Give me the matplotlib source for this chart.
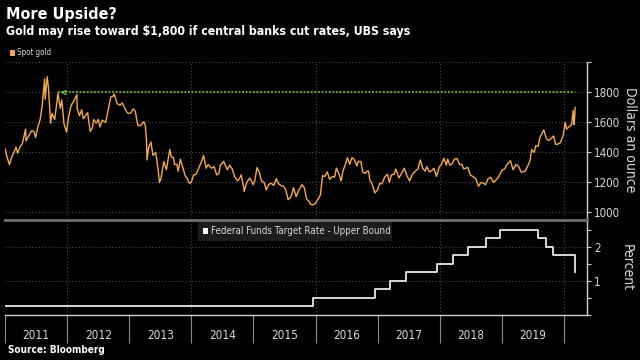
import matplotlib.pyplot as plt
import matplotlib.dates as mdates
import pandas as pd
from matplotlib.patches import Rectangle

plt.rcParams["font.family"] = ["DejaVu Sans"]
plt.rcParams["font.stretch"] = "condensed"

# spot gold, dollars an ounce
gold_dates = [
    "2011-01-03", "2011-01-14", "2011-01-27", "2011-02-08", "2011-02-22", "2011-03-07", "2011-03-16",
    "2011-03-31", "2011-04-13", "2011-04-28", "2011-05-02", "2011-05-05", "2011-05-20", "2011-06-07",
    "2011-06-20", "2011-06-30", "2011-07-12", "2011-07-27", "2011-08-08", "2011-08-22", "2011-08-25",
    "2011-09-06", "2011-09-14", "2011-09-26", "2011-10-04", "2011-10-20", "2011-10-31", "2011-11-08",
    "2011-11-22", "2011-12-01", "2011-12-14", "2011-12-29",
    "2012-01-10", "2012-01-25", "2012-02-08", "2012-02-28", "2012-02-29", "2012-03-14", "2012-03-27",
    "2012-04-05", "2012-04-18", "2012-05-01", "2012-05-16", "2012-05-29", "2012-06-06", "2012-06-20",
    "2012-07-03", "2012-07-12", "2012-07-26", "2012-08-15", "2012-08-31", "2012-09-14", "2012-09-28",
    "2012-10-04", "2012-10-22", "2012-11-07", "2012-11-20", "2012-12-03", "2012-12-19", "2012-12-28",
    "2013-01-11", "2013-01-23", "2013-02-05", "2013-02-20", "2013-03-08", "2013-03-27", "2013-04-05",
    "2013-04-12", "2013-04-15", "2013-04-24", "2013-05-08", "2013-05-20", "2013-06-05", "2013-06-20",
    "2013-06-27", "2013-07-05", "2013-07-23", "2013-08-07", "2013-08-27", "2013-09-05", "2013-09-18",
    "2013-09-24", "2013-10-08", "2013-10-15", "2013-10-28", "2013-11-14", "2013-11-27", "2013-12-06",
    "2013-12-19", "2013-12-31",
    "2014-01-14", "2014-01-28", "2014-02-11", "2014-02-26", "2014-03-14", "2014-03-28", "2014-04-10",
    "2014-04-29", "2014-05-14", "2014-05-30", "2014-06-12", "2014-06-20", "2014-07-10", "2014-07-31",
    "2014-08-14", "2014-08-29", "2014-09-11", "2014-09-30", "2014-10-10", "2014-10-21", "2014-11-05",
    "2014-11-07", "2014-11-21", "2014-12-01", "2014-12-11", "2014-12-30",
    "2015-01-08", "2015-01-22", "2015-02-05", "2015-02-17", "2015-03-05", "2015-03-17", "2015-03-31",
    "2015-04-14", "2015-04-30", "2015-05-15", "2015-05-29", "2015-06-11", "2015-06-26", "2015-07-08",
    "2015-07-20", "2015-07-24", "2015-08-10", "2015-08-24", "2015-09-09", "2015-09-25", "2015-10-14",
    "2015-10-27", "2015-11-09", "2015-11-26", "2015-12-02", "2015-12-17", "2015-12-31",
    "2016-01-13", "2016-01-29", "2016-02-11", "2016-02-25", "2016-03-10", "2016-03-24", "2016-04-08",
    "2016-04-22", "2016-05-02", "2016-05-18", "2016-05-30", "2016-06-10", "2016-06-24", "2016-07-06",
    "2016-07-20", "2016-08-02", "2016-08-17", "2016-08-31", "2016-09-08", "2016-09-23", "2016-10-04",
    "2016-10-18", "2016-10-31", "2016-11-08", "2016-11-14", "2016-11-28", "2016-12-15", "2016-12-30",
    "2017-01-13", "2017-01-25", "2017-02-10", "2017-02-27", "2017-03-10", "2017-03-22", "2017-04-07",
    "2017-04-17", "2017-05-05", "2017-05-18", "2017-06-06", "2017-06-21", "2017-07-07", "2017-07-24",
    "2017-08-09", "2017-08-25", "2017-09-08", "2017-09-22", "2017-10-06", "2017-10-16", "2017-10-31",
    "2017-11-15", "2017-11-27", "2017-12-12", "2017-12-29",
    "2018-01-10", "2018-01-25", "2018-02-08", "2018-02-16", "2018-03-01", "2018-03-14", "2018-03-27",
    "2018-04-11", "2018-04-27", "2018-05-10", "2018-05-21", "2018-06-14", "2018-06-29", "2018-07-13",
    "2018-07-31", "2018-08-16", "2018-08-31", "2018-09-14", "2018-09-27", "2018-10-11", "2018-10-26",
    "2018-11-13", "2018-11-30", "2018-12-14", "2018-12-31",
    "2019-01-04", "2019-01-17", "2019-01-31", "2019-02-20", "2019-03-07", "2019-03-25", "2019-04-10",
    "2019-04-23", "2019-05-02", "2019-05-17", "2019-05-31", "2019-06-14", "2019-06-25", "2019-07-10",
    "2019-07-18", "2019-08-01", "2019-08-13", "2019-08-23", "2019-09-04", "2019-09-18", "2019-10-01",
    "2019-10-15", "2019-11-01", "2019-11-12", "2019-11-25", "2019-12-10", "2019-12-26",
    "2020-01-08", "2020-01-16", "2020-02-03", "2020-02-14", "2020-02-24", "2020-02-28", "2020-03-04",
    "2020-03-06",
]
gold_prices = [
    1422, 1365, 1318, 1365, 1400, 1435, 1395,
    1439, 1458, 1535, 1556, 1476, 1510, 1545,
    1540, 1500, 1565, 1620, 1715, 1890, 1755,
    1905, 1825, 1595, 1660, 1620, 1715, 1795,
    1695, 1750, 1590, 1535,
    1640, 1715, 1740, 1785, 1695, 1645, 1685,
    1625, 1645, 1665, 1540, 1565, 1620, 1595,
    1620, 1570, 1615, 1600, 1690, 1770, 1775,
    1790, 1725, 1715, 1730, 1700, 1665, 1660,
    1665, 1690, 1675, 1580, 1580, 1605, 1580,
    1480, 1350, 1430, 1470, 1380, 1400, 1280,
    1200, 1220, 1340, 1285, 1420, 1370, 1365,
    1320, 1320, 1275, 1355, 1290, 1240, 1230,
    1195, 1200,
    1250, 1255, 1290, 1330, 1380, 1295, 1320,
    1295, 1305, 1250, 1260, 1315, 1340, 1285,
    1315, 1290, 1240, 1210, 1225, 1250, 1165,
    1140, 1195, 1215, 1230, 1185,
    1210, 1300, 1265, 1210, 1200, 1150, 1185,
    1195, 1180, 1225, 1190, 1180, 1175, 1155,
    1105, 1085, 1105, 1165, 1105, 1150, 1185,
    1165, 1090, 1070, 1055, 1050, 1060,
    1085, 1115, 1245, 1240, 1270, 1220, 1240,
    1235, 1295, 1255, 1210, 1275, 1320, 1365,
    1320, 1365, 1350, 1310, 1340, 1340, 1270,
    1260, 1275, 1275, 1220, 1190, 1130, 1150,
    1195, 1190, 1235, 1255, 1200, 1250, 1255,
    1290, 1230, 1255, 1295, 1245, 1210, 1255,
    1275, 1290, 1350, 1295, 1275, 1305, 1270,
    1280, 1295, 1240, 1305,
    1320, 1360, 1315, 1355, 1315, 1325, 1355,
    1360, 1320, 1320, 1290, 1300, 1250, 1240,
    1225, 1175, 1200, 1195, 1185, 1225, 1235,
    1200, 1220, 1240, 1280,
    1285, 1290, 1320, 1345, 1285, 1320, 1305,
    1270, 1270, 1275, 1305, 1340, 1420, 1400,
    1445, 1440, 1500, 1525, 1550, 1495, 1480,
    1490, 1510, 1455, 1455, 1465, 1510,
    1600, 1555, 1575, 1585, 1680, 1585, 1640,
    1700,
]

# Federal Funds Target Rate - Upper Bound, percent
fed_dates = [
    "2011-01-03", "2015-12-17", "2016-12-15", "2017-03-16", "2017-06-15", "2017-12-14",
    "2018-03-22", "2018-06-14", "2018-09-27", "2018-12-20", "2019-08-01", "2019-09-19",
    "2019-10-31", "2020-03-04", "2020-03-06",
]
fed_rates = [0.25, 0.5, 0.75, 1.0, 1.25, 1.5, 1.75, 2.0, 2.25, 2.5, 2.25, 2.0, 1.75, 1.25, 1.25]

target_price = 1800
target_start = "2011-11-08"
years = list(range(2011, 2020))

GOLD = "#f6a94c"
GREEN = "#74b83c"
GRID = "#4a4a4a"
TEXT = "#d9d9d9"

gold_x = pd.to_datetime(gold_dates)
fed_x = pd.to_datetime(fed_dates)

fig = plt.figure(figsize=(6.4, 3.6), dpi=100, facecolor="black")
ax1 = fig.add_axes([5 / 640, 1 - 218 / 360, 582 / 640, 156 / 360], facecolor="black")
ax2 = fig.add_axes([5 / 640, 1 - 315 / 360, 582 / 640, 95 / 360], facecolor="black", sharex=ax1)

# top panel: gold
ax1.plot(gold_x, gold_prices, color=GOLD, lw=1.0, zorder=3)
ax1.plot([pd.Timestamp(target_start), gold_x[-1]], [target_price, target_price],
         color=GREEN, lw=1.3, ls=(0, (1, 1)), zorder=2)
ax1.annotate("", xy=(pd.Timestamp(target_start), target_price),
             xytext=(pd.Timestamp(target_start) + pd.Timedelta(days=40), target_price),
             arrowprops=dict(arrowstyle="->", color=GREEN, lw=1.0, mutation_scale=7))
ax1.set_ylim(963, 2003)
ax1.set_yticks([1000, 1200, 1400, 1600, 1800, 2000])
ax1.set_yticklabels(["1000", "1200", "1400", "1600", "1800", ""])

# bottom panel: fed funds
ax2.step(fed_x, fed_rates, where="post", color="#e8e8e8", lw=1.3, zorder=3)
ax2.set_ylim(0, 2.79)
ax2.set_yticks([0, 0.5, 1, 1.5, 2, 2.5])
ax2.set_yticklabels(["", "", "1", "", "2", ""])

ax1.set_xlim(pd.Timestamp("2011-01-01"), pd.Timestamp("2020-05-15"))

for ax in (ax1, ax2):
    for side in ("left", "top", "bottom"):
        ax.spines[side].set_visible(False)
    ax.spines["right"].set_color("#cfcfcf")
    ax.spines["right"].set_linewidth(1.0)
    ax.yaxis.tick_right()
    ax.tick_params(axis="y", colors="#cfcfcf", labelcolor=TEXT, labelsize=8.3, length=3, width=0.8, pad=2)
    for yr in (2012, 2014, 2016, 2018, 2020):
        ax.axvline(pd.Timestamp(f"{yr}-01-01"), color=GRID, lw=0.8, ls=(0, (1, 2)), zorder=1)

for v in [1000, 1200, 1400, 1600, 1800, 2000]:
    ax1.axhline(v, color=GRID, lw=0.8, ls=(0, (1, 2)), zorder=1)
for v in [1, 2]:
    ax2.axhline(v, color=GRID, lw=0.8, ls=(0, (1, 2)), zorder=1)

ax2.spines["top"].set_visible(True)
ax2.spines["top"].set_color("#6e6e6e")
ax2.spines["top"].set_linewidth(2.0)
ax2.spines["bottom"].set_visible(True)
ax2.spines["bottom"].set_color("#cfcfcf")
ax2.spines["bottom"].set_linewidth(1.0)

ax2.xaxis.set_major_locator(mdates.YearLocator())
ax2.xaxis.set_major_formatter(plt.NullFormatter())
ax2.set_xticks([pd.Timestamp(f"{y}-07-02") for y in years], minor=True)
ax2.set_xticklabels([str(y) for y in years], minor=True)
ax2.tick_params(axis="x", which="major", length=20, width=0.8, color="#8a8a8a", direction="out")
ax2.tick_params(axis="x", which="minor", length=0, labelsize=8.5, labelcolor=TEXT, pad=10)
ax1.tick_params(axis="x", which="both", bottom=False, labelbottom=False)

# titles and legends
fig.text(6 / 640, 1 - 14 / 360, "More Upside?", color="white", fontsize=11.5, weight="bold", va="center")
fig.text(6 / 640, 1 - 32 / 360, "Gold may rise toward $1,800 if central banks cut rates, UBS says",
         color="white", fontsize=8.8, weight="bold", va="center")
fig.add_artist(Rectangle((10 / 640, 1 - 56 / 360), 5 / 640, 6 / 360, transform=fig.transFigure,
                         color=GOLD, lw=0))
fig.text(17 / 640, 1 - 52.5 / 360, "Spot gold", color=TEXT, fontsize=5.8, va="center")

fig.add_artist(Rectangle((198 / 640, 1 - 241 / 360), 194 / 640, 19 / 360, transform=fig.transFigure,
                         color="#1c1c1c", lw=0, zorder=4))
fig.add_artist(Rectangle((203 / 640, 1 - 234 / 360), 5 / 640, 6 / 360, transform=fig.transFigure,
                         color="white", lw=0, zorder=5))
fig.text(211 / 640, 1 - 231 / 360, "Federal Funds Target Rate - Upper Bound", color=TEXT,
         fontsize=7.0, va="center", zorder=5)

fig.text(630 / 640, 1 - 140 / 360, "Dollars an ounce", color=TEXT, fontsize=10, rotation=270,
         ha="center", va="center")
fig.text(627 / 640, 1 - 268 / 360, "Percent", color=TEXT, fontsize=10, rotation=270,
         ha="center", va="center")
fig.text(8 / 640, 1 - 350 / 360, "Source: Bloomberg", color="white", fontsize=7.2, weight="bold",
         va="center")

fig.savefig("out.png", dpi=100, facecolor="black")
